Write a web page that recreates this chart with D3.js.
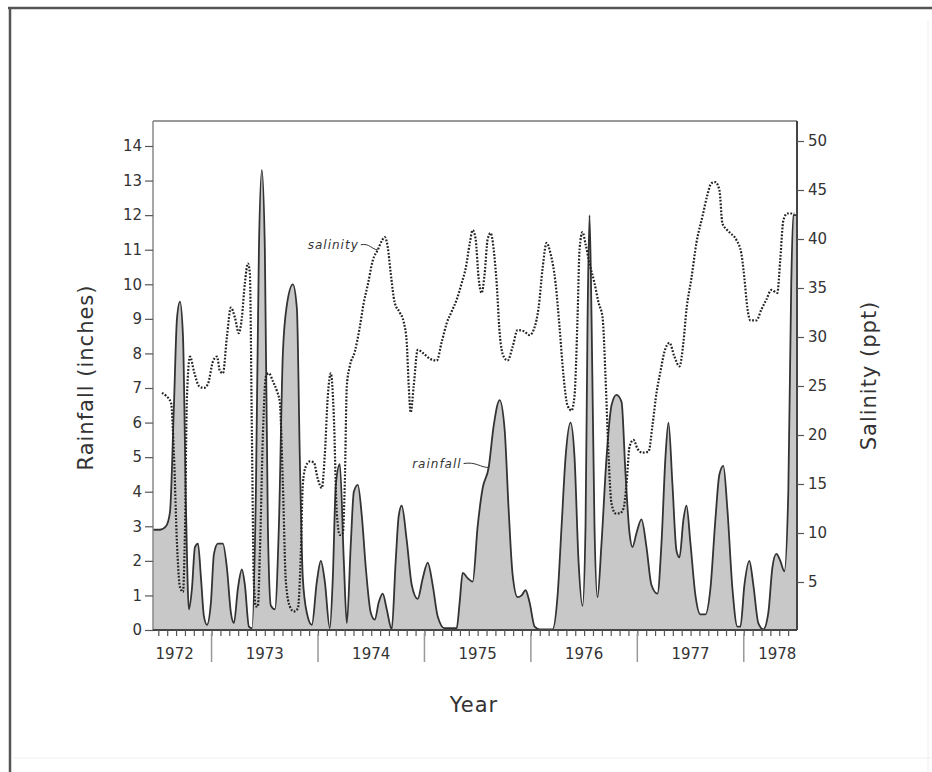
<!DOCTYPE html>
<html>
<head>
<meta charset="utf-8">
<script src="https://cdn.jsdelivr.net/npm/d3@7"></script>
<style>
  body { margin: 0; background: #fff; }
  svg { display: block; }
  text { font-family: "DejaVu Sans", sans-serif; fill: #333; }
</style>
</head>
<body>
<div id="chart"></div>
<script>
// x values are months counted from the left edge of the record
const rainMonths = [0, 0.79, 1.46, 1.91, 2.36, 2.70, 3.04, 3.38, 3.72, 4.05, 4.39, 4.73, 5.07, 5.41, 5.74, 6.08,
  6.53, 6.87, 7.32, 7.88, 8.33, 8.78, 9.12, 9.57, 10.02, 10.36, 10.81, 11.15, 11.60, 11.94, 12.27, 12.61,
  12.95, 13.29, 13.74, 14.19, 14.64, 15.09, 15.77, 16.22, 16.55, 16.89, 17.34, 17.91, 18.47, 18.92, 19.37,
  19.93, 20.27, 20.61, 21.06, 21.51, 21.85, 22.30, 22.64, 23.09, 23.54, 23.99, 24.55, 25.00, 25.45, 25.90,
  26.35, 26.91, 27.36, 27.70, 28.04, 28.60, 29.17, 29.84, 30.41, 30.97, 31.53, 32.09, 32.88, 34.23, 34.57,
  34.91, 35.47, 36.04, 36.60, 37.16, 37.84, 38.40, 39.08, 39.64, 40.09, 40.54, 41.10, 41.55, 42.00, 42.45,
  43.02, 43.58, 45.05, 45.61, 46.06, 46.51, 47.07, 47.52, 47.97, 48.42, 48.76, 48.99, 49.21, 49.44, 49.77,
  50.11, 50.56, 51.13, 51.69, 52.25, 52.82, 53.27, 53.72, 54.05, 54.50, 55.07, 55.63, 56.19, 56.87, 57.32,
  57.77, 58.11, 58.56, 59.01, 59.35, 59.80, 60.14, 60.59, 61.15, 61.71, 62.27, 62.84, 63.40, 63.85, 64.30,
  64.75, 65.32, 65.88, 66.22, 66.67, 67.23, 67.68, 68.24, 68.81, 69.37, 69.82, 70.27, 70.72, 71.17, 71.62,
  71.95, 72.18, 72.52];
const rainInches = [2.9, 2.9, 3.0, 3.4, 6.5, 9.0, 9.5, 8.5, 3.5, 0.6, 1.2, 2.4, 2.5, 1.5, 0.4, 0.15,
  0.8, 2.2, 2.5, 2.5, 1.8, 0.5, 0.2, 1.2, 1.75, 1.3, 0.1, 0.05, 4, 11, 13.3, 11,
  3, 0.7, 0.6, 3, 8, 9.4, 10.0, 9.3, 5, 1.5, 0.5, 0.15, 1.4, 2.0, 1.4,
  0.05, 1.5, 4.2, 4.8, 2, 0.2, 2.5, 4.0, 4.2, 3.3, 1.8, 0.5, 0.3, 0.8, 1.05,
  0.6, 0.02, 2.0, 3.3, 3.6, 2.6, 1.3, 0.9, 1.5, 1.95, 1.3, 0.4, 0.05, 0.05, 0.8,
  1.65, 1.5, 1.4, 3.0, 4.1, 4.7, 5.9, 6.65, 5.8, 3.5, 1.6, 0.95, 1.0, 1.15, 0.8,
  0.1, 0.02, 0.02, 1.0, 3.0, 5.0, 6.0, 5.0, 2.0, 0.7, 3, 9, 12.0, 9, 3,
  0.95, 2.5, 5.0, 6.5, 6.8, 6.6, 4.5, 2.8, 2.4, 2.8, 3.2, 2.4, 1.3, 1.05, 2.5,
  5.0, 6.0, 4.2, 2.3, 2.1, 3.2, 3.6, 2.5, 1.0, 0.45, 0.45, 1.2, 3.2, 4.5, 4.75,
  3.5, 1.2, 0.1, 0.1, 1.3, 2.0, 1.3, 0.2, 0.02, 0.5, 1.8, 2.2, 2.0, 1.7, 4,
  10, 12, 12];

const salMonths = [1.01, 1.46, 2.03, 2.36, 2.70, 3.04, 3.38, 3.60, 3.83, 4.17, 4.62, 5.18, 5.74, 6.19, 6.76,
  7.21, 7.55, 7.88, 8.33, 8.78, 9.23, 9.68, 10.02, 10.36, 10.70, 10.92, 11.15, 11.37, 11.60, 11.82, 12.05,
  12.39, 12.73, 13.06, 13.51, 13.96, 14.30, 14.64, 14.98, 15.43, 15.88, 16.33, 16.67, 16.89, 17.23, 17.68,
  18.13, 18.58, 19.03, 19.37, 19.71, 20.05, 20.38, 20.72, 21.06, 21.40, 21.62, 21.85, 22.18, 22.75, 23.31,
  23.76, 24.21, 24.77, 25.34, 25.79, 26.13, 26.46, 26.80, 27.25, 27.82, 28.27, 28.60, 28.83, 29.05, 29.39,
  29.84, 30.52, 31.19, 31.98, 32.55, 33.11, 33.67, 34.23, 34.80, 35.25, 35.70, 36.04, 36.37, 36.71, 37.05,
  37.39, 37.73, 38.06, 38.40, 38.74, 39.08, 39.53, 39.98, 40.54, 41.10, 41.78, 42.45, 43.02, 43.47, 43.92,
  44.37, 44.82, 45.38, 45.83, 46.28, 46.73, 47.18, 47.52, 47.86, 48.09, 48.42, 48.76, 49.21, 49.77, 50.23,
  50.68, 51.01, 51.35, 51.69, 52.14, 52.59, 53.04, 53.38, 53.72, 54.17, 54.62, 55.18, 55.86, 56.31, 56.76,
  57.21, 57.66, 58.22, 58.78, 59.35, 59.80, 60.14, 60.70, 61.26, 61.94, 62.50, 62.95, 63.40, 63.85, 64.19,
  64.64, 65.09, 65.77, 66.33, 66.67, 67.00, 67.34, 68.02, 68.58, 69.14, 69.71, 70.38, 70.72, 71.06, 71.51,
  72.30];
const salPpt = [24.3, 24.0, 23.3, 18, 9, 4.5, 4.0, 10, 24, 28.0, 26.5, 25.0, 24.8, 25.2, 27.5,
  28.0, 26.5, 26.3, 30, 33.0, 32.0, 30.4, 32, 35.5, 37.5, 36.5, 20, 5, 2.5, 2.5, 8,
  20, 26, 26.3, 25.5, 24.5, 23.3, 15, 5, 2.5, 2.0, 2.3, 8, 15, 16.8, 17.3,
  17.2, 15.5, 14.6, 18, 24, 26.3, 22, 12, 9.8, 10, 15, 25, 27, 28.5, 31,
  33.5, 35.3, 37.8, 38.9, 39.8, 40.2, 39.2, 36.5, 33.5, 32.5, 31.5, 29.5, 25, 22.3, 25,
  28.7, 28.3, 27.8, 27.6, 29.5, 31.4, 32.6, 33.8, 35.5, 37, 39.5, 40.9, 40, 36, 34.5,
  36.5, 40, 40.6, 39, 35.5, 30.4, 28, 27.6, 29, 30.7, 30.6, 30.2, 31, 33, 37,
  39.6, 38.5, 35.5, 31, 26, 23, 22.5, 24, 32, 39, 40.7, 39.5, 37.5, 35.5, 33.5,
  32, 26, 18, 13, 12, 12, 12.5, 15, 18.8, 19.5, 18.6, 18.2, 18.3, 21, 24.3,
  26.5, 28.5, 29.4, 28, 27, 29.5, 32.8, 36, 39.6, 42.3, 44.5, 45.7, 45.8, 45, 41.6,
  41, 40.6, 39.9, 38.5, 36, 33, 31.7, 31.7, 32.8, 33.8, 34.8, 34.5, 38, 41.9, 42.6,
  42.6];

const rainTickValues = [0, 1, 2, 3, 4, 5, 6, 7, 8, 9, 10, 11, 12, 13, 14];
const salTickValues = [5, 10, 15, 20, 25, 30, 35, 40, 45, 50];
const yearLabels = ["1972", "1973", "1974", "1975", "1976", "1977", "1978"];
const yearBreaks = [6.6, 18.6, 30.6, 42.6, 54.6, 66.6];
const monthSpan = 72.6;

const width = 932, height = 772;
const svg = d3.select("#chart").append("svg")
  .attr("width", width)
  .attr("height", height);

// page frame
svg.append("line").attr("x1", 8).attr("x2", width).attr("y1", 8).attr("y2", 8)
  .attr("stroke", "#555").attr("stroke-width", 2.5);
svg.append("line").attr("x1", 10).attr("x2", 10).attr("y1", 8).attr("y2", height)
  .attr("stroke", "#555").attr("stroke-width", 2.5);
svg.append("line").attr("x1", 928).attr("x2", 928).attr("y1", 20).attr("y2", height)
  .attr("stroke", "#eee").attr("stroke-width", 1);
svg.append("line").attr("x1", 14).attr("x2", width).attr("y1", 758).attr("y2", 758)
  .attr("stroke", "#eee").attr("stroke-width", 1);

const plotLeft = 153, plotRight = 797, plotTop = 121, plotBottom = 630;

let x = d3.scaleLinear().domain([0, monthSpan]).range([plotLeft, plotRight]);
let yRain = d3.scaleLinear().domain([0, 14]).range([plotBottom, 146]);
let ySal = d3.scaleLinear().domain([0, 50]).range([631, 141]);

let rainData = rainMonths.map((m, i) => ({ m: m, v: rainInches[i] }));
let salData = salMonths.map((m, i) => ({ m: m, v: salPpt[i] }));

// rainfall: filled smooth curve
let rainArea = d3.area()
  .x(d => x(d.m))
  .y0(plotBottom)
  .y1(d => yRain(d.v))
  .curve(d3.curveMonotoneX);
let rainLine = d3.line()
  .x(d => x(d.m))
  .y(d => yRain(d.v))
  .curve(d3.curveMonotoneX);

svg.append("path").datum(rainData)
  .attr("d", rainArea)
  .attr("fill", "#c8c8c8");
svg.append("path").datum(rainData)
  .attr("d", rainLine)
  .attr("fill", "none")
  .attr("stroke", "#333")
  .attr("stroke-width", 1.8);

// salinity: dotted line on the right scale
let salLine = d3.line()
  .x(d => x(d.m))
  .y(d => ySal(d.v))
  .curve(d3.curveMonotoneX);
svg.append("path").datum(salData)
  .attr("d", salLine)
  .attr("fill", "none")
  .attr("stroke", "#222")
  .attr("stroke-width", 2.2)
  .attr("stroke-dasharray", "1.8,1.6");

// plot frame
svg.append("line").attr("x1", plotLeft).attr("x2", plotRight).attr("y1", plotTop).attr("y2", plotTop)
  .attr("stroke", "#999").attr("stroke-width", 2);
svg.append("line").attr("x1", plotLeft).attr("x2", plotLeft).attr("y1", plotTop).attr("y2", plotBottom)
  .attr("stroke", "#888").attr("stroke-width", 1.5);
svg.append("line").attr("x1", plotRight).attr("x2", plotRight).attr("y1", plotTop).attr("y2", plotBottom)
  .attr("stroke", "#444").attr("stroke-width", 2);
svg.append("line").attr("x1", plotLeft).attr("x2", plotRight).attr("y1", plotBottom).attr("y2", plotBottom)
  .attr("stroke", "#444").attr("stroke-width", 2);

// left axis
let gLeft = svg.append("g")
  .attr("transform", `translate(${plotLeft},0)`)
  .call(d3.axisLeft(yRain).tickValues(rainTickValues).tickSize(8).tickSizeOuter(0).tickPadding(3));
gLeft.select(".domain").remove();
gLeft.selectAll(".tick line").attr("stroke", "#555").attr("stroke-width", 1.2);
gLeft.selectAll(".tick text").attr("font-size", 15).attr("fill", "#333")
  .style("font-family", "'DejaVu Sans', sans-serif");

// right axis
let gRight = svg.append("g")
  .attr("transform", `translate(${plotRight},0)`)
  .call(d3.axisRight(ySal).tickValues(salTickValues).tickSize(7).tickSizeOuter(0).tickPadding(4));
gRight.select(".domain").remove();
gRight.selectAll(".tick line").attr("stroke", "#555").attr("stroke-width", 1.2);
gRight.selectAll(".tick text").attr("font-size", 15).attr("fill", "#333")
  .style("font-family", "'DejaVu Sans', sans-serif");

// bottom axis: monthly ticks, year breaks, year labels
let monthTicks = d3.range(yearBreaks[0] - Math.floor(yearBreaks[0]), monthSpan, 1);
let gBottom = svg.append("g")
  .attr("transform", `translate(0,${plotBottom})`)
  .call(d3.axisBottom(x).tickValues(monthTicks).tickSize(6).tickSizeOuter(0).tickFormat(""));
gBottom.select(".domain").remove();
gBottom.selectAll(".tick line").attr("stroke", "#555").attr("stroke-width", 1.2);

svg.selectAll(".yearBreak")
  .data(yearBreaks)
  .enter()
  .append("line")
  .attr("class", "yearBreak")
  .attr("x1", d => x(d)).attr("x2", d => x(d))
  .attr("y1", plotBottom + 3).attr("y2", plotBottom + 32)
  .attr("stroke", "#999")
  .attr("stroke-width", 1.5);

// labels sit in the middle of each year segment; the two clipped end segments lean outward
let segEdges = [0].concat(yearBreaks, [monthSpan]);
let lastSeg = yearLabels.length - 1;
svg.selectAll(".yearLabel")
  .data(yearLabels)
  .enter()
  .append("text")
  .attr("class", "yearLabel")
  .attr("x", (d, i) => {
    let mid = (segEdges[i] + segEdges[i + 1]) / 2;
    if (i === 0) mid = segEdges[1] * 0.37;
    if (i === lastSeg) mid = segEdges[i] + (segEdges[i + 1] - segEdges[i]) * 0.63;
    return x(mid);
  })
  .attr("y", plotBottom + 29)
  .attr("text-anchor", "middle")
  .attr("font-size", 15)
  .text(d => d);

// axis titles
svg.append("text")
  .attr("transform", `translate(93,${(plotTop + plotBottom) / 2 + 2}) rotate(-90)`)
  .attr("text-anchor", "middle")
  .attr("font-size", 21)
  .attr("letter-spacing", 1)
  .text("Rainfall (inches)");
svg.append("text")
  .attr("transform", `translate(876,${(plotTop + plotBottom) / 2}) rotate(-90)`)
  .attr("text-anchor", "middle")
  .attr("font-size", 21)
  .attr("letter-spacing", 1)
  .text("Salinity (ppt)");
svg.append("text")
  .attr("x", 474)
  .attr("y", 712)
  .attr("text-anchor", "middle")
  .attr("font-size", 21)
  .attr("letter-spacing", 1)
  .text("Year");

// series annotations
function annotate(label, target, scaleY, dx, dy) {
  let px = x(target.m), py = scaleY(target.v);
  svg.append("path")
    .attr("d", `M${px - dx},${py + dy - 4} C${px - dx / 2},${py + dy - 6} ${px - dx / 3},${py} ${px},${py}`)
    .attr("fill", "none")
    .attr("stroke", "#333")
    .attr("stroke-width", 1);
  svg.append("text")
    .attr("x", px - dx - 2)
    .attr("y", py + dy)
    .attr("text-anchor", "end")
    .attr("font-size", 12)
    .attr("letter-spacing", 1)
    .attr("font-style", "italic")
    .text(label);
}
annotate("salinity", salData[64], ySal, 17, -1);
annotate("rainfall", rainData[82], yRain, 25, 0);
</script>
</body>
</html>
